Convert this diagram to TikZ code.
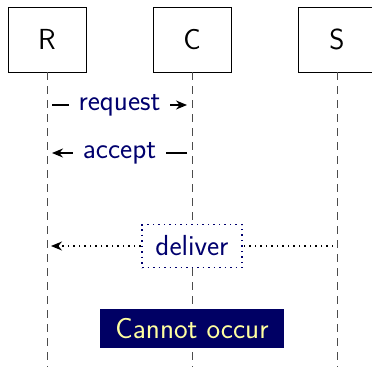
\documentclass[tikz,border=0pt]{standalone}
\usetikzlibrary{arrows.meta}
\definecolor{navytext}{RGB}{0,0,110}
\definecolor{navyfill}{RGB}{0,0,100}
\definecolor{lightyel}{RGB}{255,255,160}
\begin{document}
\begin{tikzpicture}[x=1pt,y=-1pt,
  every node/.style={font=\sffamily\fontsize{29}{34}\selectfont},
  actor/.style={draw=black,line width=0.8pt,fill=white,minimum width=78pt,minimum height=65pt,inner sep=0pt},
  lifeline/.style={draw=black!70,line width=1pt,dash pattern=on 8pt off 6pt},
  msg/.style={line width=1.5pt,-{Stealth[length=11pt,width=9pt]},shorten <=5pt,shorten >=5pt},
  msglabel/.style={fill=white,text=navytext,inner xsep=10pt,inner ysep=3pt},
  dotmsg/.style={line width=1.5pt,dash pattern=on 1.5pt off 4pt,-{Stealth[length=11pt,width=9pt]},shorten <=4pt,shorten >=4pt},
  dotlabel/.style={fill=white,text=navytext,draw=navytext,line width=1.5pt,dash pattern=on 1.5pt off 4pt,inner sep=2pt,minimum width=100pt,minimum height=43pt},
  warnbox/.style={fill=navyfill,text=lightyel,inner sep=2pt,minimum width=184pt,minimum height=39pt}]
\useasboundingbox (0,0) rectangle (372,367);
\node[actor] (R) at (47,39.5) {R};
\node[actor] (C) at (192,39.5) {C};
\node[actor] (S) at (337,39.5) {S};
\coordinate (Rend) at (47,367);
\coordinate (Cend) at (192,367);
\coordinate (Send) at (337,367);
\draw[lifeline] (R.south) -- (Rend);
\draw[lifeline] (C.south) -- (Cend);
\draw[lifeline] (S.south) -- (Send);
\coordinate (r1) at (47,105); \coordinate (c1) at (192,105);
\coordinate (r2) at (47,153); \coordinate (c2) at (192,153);
\coordinate (r3) at (47,246); \coordinate (s3) at (337,246);
\draw[msg] (r1) -- node[msglabel] (lreq) {request} (c1);
\draw[msg] (c2) -- node[msglabel] (lacc) {accept} (r2);
\draw[dotmsg] (s3) -- (r3);
\node[dotlabel] (ldel) at (192,246) {deliver};
\node[warnbox] (warn) at (192,328.5) {Cannot occur};
\end{tikzpicture}
\end{document}
